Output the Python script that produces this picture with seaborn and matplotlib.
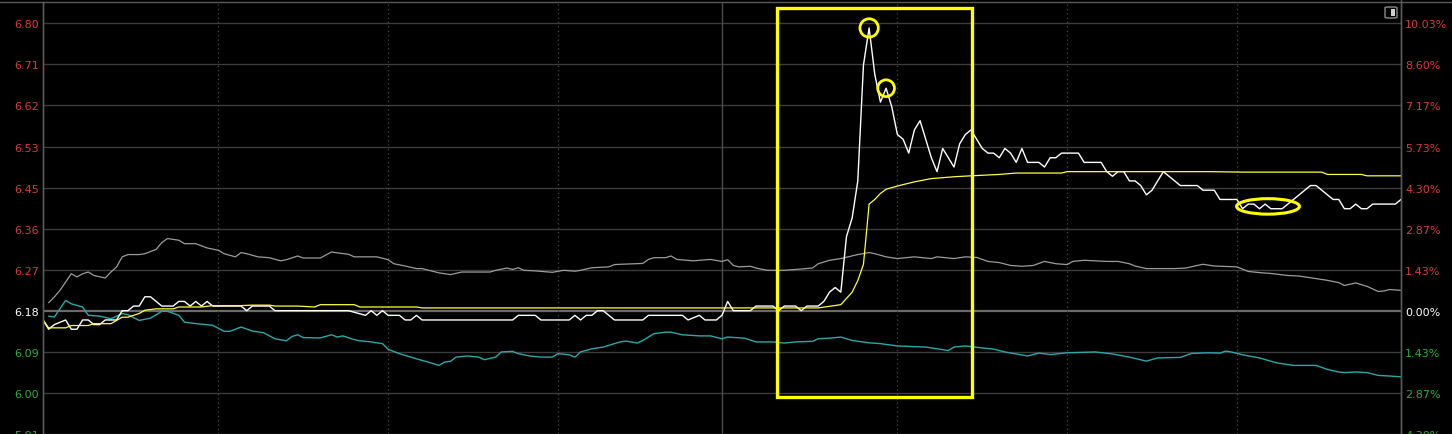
import matplotlib
matplotlib.use("Agg")
import matplotlib.pyplot as plt
import seaborn as sns
import numpy as np
from matplotlib.patches import Rectangle, Ellipse, FancyBboxPatch
from matplotlib.lines import Line2D

# ---------------- data ----------------
PRE_CLOSE = 6.18
LIMIT_PCT = 10.03

price_min = [0, 1, 2, 4, 5, 6, 7, 8, 9, 10, 11, 13, 14, 15, 16, 17, 18, 19, 21, 23, 24, 25, 26, 27, 28, 29,
             30, 35, 36, 37, 40, 41, 54, 57, 58, 59, 60, 61, 63, 64, 65, 66, 67, 83, 84, 87, 88, 93, 94, 95,
             96, 97, 98, 99, 101, 106, 107, 113, 114, 116, 117, 119, 120, 121, 122, 125, 126, 129, 130, 131,
             133, 134, 135, 137, 138, 139, 140, 141, 142, 143, 144, 145, 146, 147, 148, 149, 150, 151, 152,
             153, 154, 155, 156, 157, 158, 159, 160, 161, 162, 163, 164, 165, 166, 167, 168, 169, 170, 171,
             172, 173, 174, 176, 177, 178, 179, 180, 183, 184, 187, 188, 189, 190, 191, 192, 193, 194, 195,
             196, 198, 199, 201, 204, 205, 207, 208, 211, 212, 213, 214, 215, 216, 217, 219, 220, 221, 222,
             223, 224, 225, 227, 228, 229, 230, 231, 232, 233, 234, 235, 239, 240]
price_val = [6.16, 6.14, 6.15, 6.16, 6.14, 6.14, 6.16, 6.16, 6.15, 6.15, 6.16, 6.16, 6.18, 6.18, 6.19, 6.19,
             6.21, 6.21, 6.19, 6.19, 6.20, 6.20, 6.19, 6.20, 6.19, 6.20, 6.19, 6.19, 6.18, 6.19, 6.19, 6.18,
             6.18, 6.17, 6.18, 6.17, 6.18, 6.17, 6.17, 6.16, 6.16, 6.17, 6.16, 6.16, 6.17, 6.17, 6.16, 6.16,
             6.17, 6.16, 6.17, 6.17, 6.18, 6.18, 6.16, 6.16, 6.17, 6.17, 6.16, 6.17, 6.16, 6.16, 6.17, 6.20,
             6.18, 6.18, 6.19, 6.19, 6.18, 6.19, 6.19, 6.18, 6.19, 6.19, 6.20, 6.22, 6.23, 6.22, 6.34, 6.38,
             6.46, 6.71, 6.79, 6.69, 6.63, 6.66, 6.62, 6.56, 6.55, 6.52, 6.57, 6.59, 6.55, 6.51, 6.48, 6.53,
             6.51, 6.49, 6.54, 6.56, 6.57, 6.55, 6.53, 6.52, 6.52, 6.51, 6.53, 6.52, 6.50, 6.53, 6.50, 6.50,
             6.49, 6.51, 6.51, 6.52, 6.52, 6.50, 6.50, 6.48, 6.47, 6.48, 6.48, 6.46, 6.46, 6.45, 6.43, 6.44,
             6.48, 6.47, 6.45, 6.45, 6.44, 6.44, 6.42, 6.42, 6.40, 6.41, 6.41, 6.40, 6.41, 6.40, 6.40, 6.41,
             6.42, 6.43, 6.44, 6.45, 6.45, 6.43, 6.42, 6.42, 6.40, 6.40, 6.41, 6.40, 6.40, 6.41, 6.41, 6.42]

avg_min = [0, 1, 4, 5, 8, 9, 12, 14, 15, 17, 18, 20, 23, 24, 28, 30, 35, 37, 40, 41, 45, 48, 49, 55, 56, 66,
           67, 137, 141, 143, 144, 145, 146, 147, 148, 149, 151, 154, 157, 161, 164, 169, 172, 180, 181, 206,
           212, 226, 227, 233, 234, 240]
avg_val = [6.16, 6.143, 6.143, 6.148, 6.148, 6.152, 6.152, 6.166, 6.166, 6.174, 6.181, 6.184, 6.184, 6.188,
           6.188, 6.191, 6.191, 6.192, 6.192, 6.190, 6.190, 6.188, 6.193, 6.193, 6.188, 6.188, 6.186, 6.186,
           6.193, 6.22, 6.245, 6.28, 6.41, 6.42, 6.433, 6.442, 6.449, 6.458, 6.465, 6.469, 6.471, 6.474,
           6.477, 6.477, 6.480, 6.480, 6.479, 6.479, 6.474, 6.474, 6.471, 6.471]

index1_min = [1, 2, 3, 4, 5, 6, 7, 8, 9, 11, 12, 13, 14, 15, 17, 18, 20, 21, 22, 24, 25, 27, 29, 31, 32, 34,
              35, 36, 38, 40, 42, 43, 45, 46, 49, 51, 52, 54, 55, 59, 61, 62, 64, 66, 67, 70, 72, 74, 79, 80,
              82, 83, 84, 85, 87, 90, 92, 94, 95, 97, 100, 101, 102, 106, 107, 108, 110, 111, 112, 115, 116,
              118, 120, 121, 122, 123, 125, 126, 128, 131, 133, 136, 137, 139, 141, 144, 146, 147, 149, 151,
              154, 157, 158, 161, 163, 165, 167, 169, 171, 173, 175, 177, 179, 181, 182, 184, 186, 188, 190,
              192, 193, 195, 197, 200, 202, 204, 205, 207, 211, 213, 215, 217, 220, 222, 225, 227, 229, 230,
              232, 234, 236, 237, 238, 240]
index1_pct = [0.28, 0.48, 0.71, 1.00, 1.29, 1.18, 1.29, 1.35, 1.23, 1.14, 1.35, 1.53, 1.88, 1.96, 1.96, 1.99,
              2.14, 2.38, 2.52, 2.46, 2.34, 2.34, 2.19, 2.11, 1.99, 1.88, 2.03, 1.99, 1.88, 1.85, 1.74, 1.78,
              1.91, 1.84, 1.84, 2.05, 2.02, 1.97, 1.88, 1.88, 1.78, 1.64, 1.56, 1.47, 1.47, 1.32, 1.26, 1.35,
              1.35, 1.41, 1.49, 1.44, 1.50, 1.41, 1.39, 1.34, 1.41, 1.38, 1.41, 1.50, 1.53, 1.61, 1.62, 1.65,
              1.79, 1.85, 1.85, 1.91, 1.79, 1.74, 1.76, 1.79, 1.72, 1.78, 1.58, 1.53, 1.55, 1.49, 1.41, 1.41,
              1.44, 1.49, 1.64, 1.76, 1.82, 1.96, 2.03, 1.99, 1.88, 1.82, 1.88, 1.82, 1.88, 1.82, 1.88, 1.86,
              1.72, 1.68, 1.58, 1.55, 1.58, 1.72, 1.64, 1.61, 1.72, 1.76, 1.74, 1.72, 1.72, 1.64, 1.56, 1.47,
              1.47, 1.47, 1.49, 1.58, 1.62, 1.56, 1.53, 1.37, 1.33, 1.30, 1.23, 1.21, 1.12, 1.06, 0.98, 0.88,
              0.97, 0.85, 0.67, 0.69, 0.74, 0.71]

index2_min = [1, 2, 3, 4, 5, 7, 8, 10, 12, 14, 15, 17, 19, 21, 22, 24, 25, 27, 30, 32, 33, 35, 37, 39, 41,
              43, 44, 45, 46, 49, 51, 52, 53, 55, 56, 58, 60, 61, 63, 65, 66, 68, 70, 71, 72, 73, 75, 77, 78,
              80, 81, 83, 84, 86, 88, 90, 91, 93, 94, 95, 97, 99, 102, 103, 105, 106, 108, 110, 111, 113, 116,
              118, 120, 121, 124, 126, 129, 131, 133, 136, 137, 139, 141, 143, 146, 148, 151, 156, 160, 161,
              163, 166, 168, 170, 174, 176, 178, 181, 186, 189, 192, 195, 197, 201, 203, 206, 208, 209, 210,
              212, 215, 218, 221, 225, 227, 229, 230, 232, 234, 236, 238, 240]
index2_pct = [-0.19, -0.22, 0.07, 0.36, 0.24, 0.13, -0.16, -0.19, -0.28, -0.10, -0.14, -0.34, -0.26, -0.02,
              -0.02, -0.16, -0.40, -0.45, -0.51, -0.72, -0.72, -0.57, -0.71, -0.77, -0.98, -1.05, -0.90,
              -0.84, -0.94, -0.95, -0.84, -0.92, -0.88, -1.01, -1.05, -1.09, -1.15, -1.35, -1.50, -1.62,
              -1.68, -1.79, -1.91, -1.79, -1.77, -1.62, -1.58, -1.62, -1.71, -1.62, -1.44, -1.42, -1.50,
              -1.58, -1.62, -1.62, -1.50, -1.54, -1.62, -1.44, -1.33, -1.27, -1.09, -1.06, -1.13, -1.04,
              -0.80, -0.75, -0.75, -0.84, -0.88, -0.88, -0.98, -0.92, -0.96, -1.09, -1.09, -1.13, -1.09,
              -1.07, -0.98, -0.96, -0.92, -1.04, -1.12, -1.15, -1.23, -1.27, -1.39, -1.27, -1.23, -1.30,
              -1.34, -1.44, -1.58, -1.48, -1.53, -1.47, -1.44, -1.51, -1.62, -1.76, -1.65, -1.63, -1.49,
              -1.47, -1.48, -1.41, -1.44, -1.54, -1.65, -1.82, -1.91, -1.91, -2.05, -2.14, -2.16, -2.14,
              -2.16, -2.26, -2.28, -2.31]

grid_steps = [7, 6, 5, 4, 3, 2, 1, 0, -1, -2, -3]
left_tick_labels = ["6.80", "6.71", "6.62", "6.53", "6.45", "6.36", "6.27", "6.18", "6.09", "6.00", "5.91"]
right_tick_labels = ["10.03%", "8.60%", "7.17%", "5.73%", "4.30%", "2.87%", "1.43%", "0.00%", "1.43%",
                     "2.87%", "4.30%"]
half_hour_marks = [31, 61, 91, 151, 181, 211]
midday_mark = 120

# annotation shapes (highlight box, circled peaks, ellipse)
box_minutes = (129.7, 164.1)
box_prices = (5.993, 6.8325)
circled_minutes = [146, 149]
ellipse_center = (216.5, 6.405)
ellipse_size = (11.1, 0.0334)

# ---------------- style ----------------
sns.set_theme(style="dark")
plt.rcParams["font.family"] = ["DejaVu Sans"]
BG = "#000000"
RED = "#d83c3c"
GREEN = "#2fae3c"
GRID = "#3c3c3c"

W, H = 1452, 435
fig = plt.figure(figsize=(W / 100, H / 100), dpi=100, facecolor=BG)
ax_left = 43 / W
ax_right = 1401 / W
ax_top_px = 3
ax = fig.add_axes([ax_left, 0, ax_right - ax_left, (H - ax_top_px) / H])
ax.set_facecolor(BG)

px_per_unit = 463.5
y_top = PRE_CLOSE + (311.7 - ax_top_px) / px_per_unit
y_bot = PRE_CLOSE - (H - 311.7) / px_per_unit

tick_prices = [PRE_CLOSE * (1 + k * LIMIT_PCT / 7 / 100) for k in grid_steps]

# grid
for k, p in zip(grid_steps, tick_prices):
    if k == 0:
        ax.axhline(p, color="#6a6a6a", lw=1.6, zorder=1)
    else:
        ax.axhline(p, color=GRID, lw=1.0, zorder=1)
for m in half_hour_marks:
    ax.axvline(m, color="#4a4a4a", lw=0.9, ls=(0, (1, 2.5)), zorder=1)
ax.axvline(midday_mark, color="#4a4a4a", lw=1.0, zorder=1)

# series
idx1_price = [PRE_CLOSE * (1 + v / 100) for v in index1_pct]
idx2_price = [PRE_CLOSE * (1 + v / 100) for v in index2_pct]
sns.lineplot(x=index1_min, y=idx1_price, ax=ax, color="#9c9c9c", linewidth=0.9, estimator=None, zorder=2)
sns.lineplot(x=index2_min, y=idx2_price, ax=ax, color="#2aa8a8", linewidth=1.0, estimator=None, zorder=2)
sns.lineplot(x=price_min, y=price_val, ax=ax, color="#ffffff", linewidth=1.0, estimator=None, zorder=3)
sns.lineplot(x=avg_min, y=avg_val, ax=ax, color="#ffff3a", linewidth=0.9, estimator=None, zorder=4)

# annotations
YEL = "#ffff00"
ax.add_patch(Rectangle((box_minutes[0], box_prices[0]), box_minutes[1] - box_minutes[0],
                       box_prices[1] - box_prices[0], fill=False, edgecolor=YEL, lw=2.4, zorder=5))
pm = dict(zip(price_min, price_val))
circ_y = [pm[m] for m in circled_minutes]
ax.scatter(circled_minutes[:1], circ_y[:1], s=175, facecolors="none", edgecolors=YEL, linewidths=2.0, zorder=6)
ax.scatter(circled_minutes[1:], circ_y[1:], s=145, facecolors="none", edgecolors=YEL, linewidths=2.0, zorder=6)
ax.add_patch(Ellipse(ellipse_center, ellipse_size[0], ellipse_size[1], fill=False, edgecolor=YEL,
                     lw=2.2, zorder=6))

ax.set_xlim(0, 240)
ax.set_ylim(y_bot, y_top)
ax.set_xticks([])
ax.set_xlabel("")
ax.set_ylabel("")

ax.set_yticks(tick_prices)
ax.set_yticklabels(left_tick_labels)
ax.tick_params(axis="y", length=0, pad=3, labelsize=8)
for k, lab in zip(grid_steps, ax.get_yticklabels()):
    lab.set_color(RED if k > 0 else ("#ffffff" if k == 0 else GREEN))

ax2 = ax.twinx()
ax2.set_ylim(y_bot, y_top)
ax2.set_yticks(tick_prices)
ax2.set_yticklabels(right_tick_labels)
ax2.tick_params(axis="y", length=0, pad=3, labelsize=8)
ax2.grid(False)
for k, lab in zip(grid_steps, ax2.get_yticklabels()):
    lab.set_color(RED if k > 0 else ("#ffffff" if k == 0 else GREEN))

for a in (ax, ax2):
    for s in ("top", "bottom"):
        a.spines[s].set_visible(False)
    a.spines["left"].set_color("#5a5a5a")
    a.spines["right"].set_color("#5a5a5a")
    a.spines["left"].set_linewidth(1.0)
    a.spines["right"].set_linewidth(1.0)
ax.grid(False)

# frame line across the top and small toggle icon
fig.add_artist(Line2D([0, 1], [1 - ax_top_px / H] * 2, color="#5a5a5a", lw=1.0))
fig.add_artist(Line2D([ax_right, ax_right], [1 - ax_top_px / H, 1], color="#5a5a5a", lw=1.0))
fig.add_artist(FancyBboxPatch((1385 / W, 1 - 19 / H), 12 / W, 11 / H,
                              boxstyle="round,pad=0,rounding_size=0.002",
                              ec="#8a8a8a", fc="none", lw=1.0))
fig.add_artist(Rectangle((1391 / W, 1 - 17 / H), 4 / W, 7 / H, fc="#cfcfcf", ec="none"))

fig.savefig("out.png", dpi=100, facecolor=BG)
